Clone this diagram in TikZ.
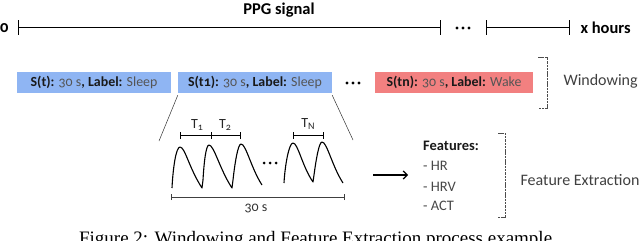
\documentclass[tikz,border=0pt]{standalone}
\usepackage{fontspec}
\setmainfont{Carlito}[Numbers=OldStyle]
\newfontfamily\capfont{Liberation Serif}
\usetikzlibrary{arrows.meta}
\definecolor{boxblue}{RGB}{143,181,243}
\definecolor{boxred}{RGB}{242,128,128}
\definecolor{dk}{RGB}{25,25,25}
\definecolor{lt}{RGB}{85,85,85}
\tikzset{
  wbox/.style={minimum height=21pt, inner sep=0pt, font=\fontsize{13.9}{15}\selectfont, text=lt},
  brk/.style={draw=black!70, line width=0.6pt, dash pattern=on 2.5pt off 0.8pt},
  axis/.style={line width=1pt, draw=black},
  wave/.style={line width=1.1pt, line join=round},
  dim/.style={line width=0.7pt},
  lbl/.style={font=\fontsize{16}{18}\selectfont, text=black!75},
  ttl/.style={font=\fontsize{16.5}{18}\selectfont\bfseries},
  tlab/.style={font=\fontsize{14}{16}\selectfont, text=black!85},
  feat/.style={font=\fontsize{14.5}{16}\selectfont, text=black!72, anchor=base west, inner sep=0pt},
}
\newcommand{\bl}[1]{{\bfseries\color{dk}#1}}
\newcommand{\sbs}[1]{\raisebox{-1.2pt}{\fontsize{10}{11}\selectfont #1}}
\begin{document}
\begin{tikzpicture}[x=1pt,y=-1pt]
\useasboundingbox (0,0) rectangle (640,241);
% timeline
\coordinate (a0) at (18,27);
\coordinate (a1) at (440,27);
\coordinate (a2) at (486,27);
\coordinate (a3) at (569,27);
\node[ttl, anchor=east] (zero) at (12,28) {0};
\node[ttl] (ppg) at (279,10) {PPG signal};
\node[ttl, anchor=west] (xh) at (577,28) {x hours};
\draw[axis] (a0) -- (a1);
\draw[axis] (a2) -- (a3);
\foreach \c in {a0,a1,a2,a3} \draw[axis] ([yshift=-7.5pt]\c) -- ([yshift=7.5pt]\c);
\fill (457,28) circle (1.6pt) (463,28) circle (1.6pt) (469,28) circle (1.6pt);
% windows
\node[wbox, fill=boxblue, minimum width=154pt] (w1) at (94,82.5) {\bl{S(t):} 30 s\bl{, Label:} Sleep};
\node[wbox, fill=boxblue, minimum width=154pt] (w2) at (255,82.5) {\bl{S(t1):} 30 s\bl{, Label:} Sleep};
\node[wbox, fill=boxred, minimum width=158pt] (w3) at (454,82.5) {\bl{S(tn):} 30 s\bl{, Label:} Wake};
\fill (347,83) circle (1.6pt) (353,83) circle (1.6pt) (359,83) circle (1.6pt);
% windowing bracket
\coordinate (b1t) at (547,57);
\coordinate (b1b) at (547,108);
\draw[brk] ([xshift=-9pt]b1t) -- (b1t) -- (b1b) -- ([xshift=-9pt]b1b);
\node[lbl, anchor=west] (wlab) at (560,81) {Windowing};
% zoom lines
\coordinate (zl) at (159,141);
\coordinate (zr) at (353,140);
\draw[line width=0.5pt, black!80] ([yshift=-2pt]w2.south west) -- (zl);
\draw[line width=0.5pt, black!80] ([yshift=-2pt]w2.south east) -- (zr);
% waveform
\draw[wave] (172,188) .. controls (173,168) and (176,147) .. (180,147)
   .. controls (185,147) and (189,168) .. (202,188)
   -- (203,180) .. controls (204,162) and (206,145) .. (209,145)
   .. controls (214,145) and (220,170) .. (232,188)
   -- (233,180) .. controls (235,162) and (238,144) .. (241,144)
   .. controls (246,144) and (251,168) .. (262,185);
\fill (264,163) circle (1.5pt) (270,163) circle (1.5pt) (276,163) circle (1.5pt);
\draw[wave] (284,183) .. controls (285,165) and (289,143) .. (293,143)
   .. controls (298,143) and (302,166) .. (313,182)
   -- (314,175) .. controls (316,160) and (319,142) .. (322,142)
   .. controls (327,142) and (332,166) .. (343,183);
% T dimension bars
\coordinate (p1) at (180,135);
\coordinate (p2) at (211,135);
\coordinate (p3) at (240,135);
\coordinate (p4) at (293,135);
\coordinate (p5) at (323,135);
\draw[dim] (p1) -- (p3);
\draw[dim] (p4) -- (p5);
\foreach \c in {p1,p2,p3,p4,p5} \draw[dim] ([yshift=-3.5pt]\c) -- ([yshift=3.5pt]\c);
\node[tlab] (t1) at (197,125) {T\sbs{1}};
\node[tlab] (t2) at (225,125) {T\sbs{2}};
\node[tlab] (tn) at (308,124) {T\sbs{N}};
% 30 s bar
\coordinate (s1) at (171,197);
\coordinate (s2) at (344,197);
\draw[dim, black!75] (s1) -- (s2);
\foreach \c in {s1,s2} \draw[dim, black!75] ([yshift=-3pt]\c) -- ([yshift=3pt]\c);
\node[font=\fontsize{14}{16}\selectfont, text=black!80] (ts) at (256,208) {30 s};
% arrow
\coordinate (ar1) at (373,175);
\coordinate (ar2) at (408,175);
\draw[line width=1.2pt, -{Straight Barb[length=4pt,width=8pt]}] (ar1) -- (ar2);
% features
\node[feat, text=dk, font=\fontsize{14.5}{16}\selectfont\bfseries] (f0) at (423,150) {Features:};
\node[feat] (f1) at (423,170) {- HR};
\node[feat] (f2) at (423,191) {- HRV};
\node[feat] (f3) at (423,210) {- ACT};
\coordinate (b2t) at (505,133);
\coordinate (b2b) at (505,217);
\draw[brk] ([xshift=-7pt]b2t) -- (b2t) -- (b2b) -- ([xshift=-7pt]b2b);
\node[lbl, anchor=west] (flab) at (517,180) {Feature Extraction};
% caption
\node[font=\capfont\fontsize{19}{21}\selectfont, anchor=base] (cap) at (318,244.5) {Figure 2: Windowing and Feature Extraction process example.};
\end{tikzpicture}
\end{document}
